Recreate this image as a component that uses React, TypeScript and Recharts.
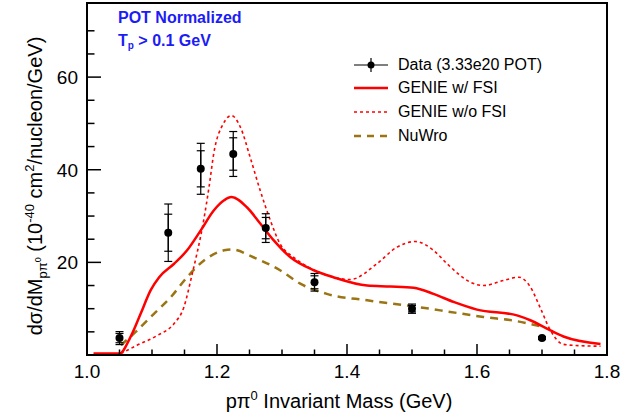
import { ComposedChart, Line, Scatter, ErrorBar, XAxis, YAxis, ReferenceArea } from 'recharts';

// p pi0 invariant mass (GeV) vs cross section (1e-40 cm2/nucleon/GeV)
const dataMass = [1.05, 1.125, 1.175, 1.225, 1.275, 1.35, 1.5, 1.7];
const dataValue = [3.65, 26.4, 40.2, 43.4, 27.4, 15.7, 10.0, 3.65];
const dataStat = [1.0, 4.0, 3.9, 3.5, 2.3, 1.4, 0.7, 0.2];
const dataTotal = [1.4, 6.2, 5.5, 4.85, 3.1, 1.9, 1.0, 0.3];

const genieFsi = [
  { m: 1.01, v: 0.3 }, { m: 1.05, v: 0.3 }, { m: 1.067, v: 3.9 }, { m: 1.0825, v: 8.9 },
  { m: 1.098, v: 14.0 }, { m: 1.111, v: 16.8 }, { m: 1.134, v: 19.7 }, { m: 1.154, v: 22.6 },
  { m: 1.175, v: 26.9 }, { m: 1.195, v: 31.2 }, { m: 1.211, v: 33.4 }, { m: 1.222, v: 34.1 },
  { m: 1.246, v: 31.9 }, { m: 1.2665, v: 28.4 }, { m: 1.287, v: 24.8 }, { m: 1.313, v: 21.1 },
  { m: 1.349, v: 18.3 }, { m: 1.379, v: 16.8 }, { m: 1.431, v: 15.0 }, { m: 1.467, v: 14.8 },
  { m: 1.5025, v: 14.5 }, { m: 1.533, v: 13.2 }, { m: 1.565, v: 11.4 }, { m: 1.6, v: 9.8 },
  { m: 1.6615, v: 8.55 }, { m: 1.682, v: 7.5 }, { m: 1.713, v: 5.3 }, { m: 1.733, v: 4.0 },
  { m: 1.79, v: 2.4 },
];

const genieNoFsi = [
  { m: 1.052, v: 0.3 }, { m: 1.077, v: 2.1 }, { m: 1.108, v: 4.2 }, { m: 1.134, v: 6.8 },
  { m: 1.149, v: 10.3 }, { m: 1.161, v: 17.0 }, { m: 1.18, v: 29.5 }, { m: 1.188, v: 36.5 },
  { m: 1.195, v: 43.5 }, { m: 1.21, v: 50.0 }, { m: 1.222, v: 51.7 }, { m: 1.236, v: 49.2 },
  { m: 1.251, v: 42.7 }, { m: 1.2665, v: 35.5 }, { m: 1.282, v: 29.1 }, { m: 1.297, v: 24.0 },
  { m: 1.318, v: 21.1 }, { m: 1.34, v: 19.0 }, { m: 1.369, v: 17.2 }, { m: 1.405, v: 16.3 },
  { m: 1.446, v: 19.7 }, { m: 1.477, v: 23.3 }, { m: 1.505, v: 24.5 }, { m: 1.533, v: 22.6 },
  { m: 1.554, v: 19.7 }, { m: 1.574, v: 17.2 }, { m: 1.59, v: 15.7 }, { m: 1.61, v: 15.0 },
  { m: 1.641, v: 16.1 }, { m: 1.664, v: 16.8 }, { m: 1.682, v: 14.7 }, { m: 1.697, v: 10.3 },
  { m: 1.713, v: 5.3 }, { m: 1.733, v: 2.3 }, { m: 1.76, v: 2.0 }, { m: 1.79, v: 1.9 },
];

const nuwro = [
  { m: 1.052, v: 2.1 }, { m: 1.072, v: 4.6 }, { m: 1.103, v: 8.9 }, { m: 1.129, v: 12.5 },
  { m: 1.154, v: 16.8 }, { m: 1.18, v: 20.4 }, { m: 1.211, v: 22.6 }, { m: 1.222, v: 22.8 },
  { m: 1.256, v: 21.1 }, { m: 1.297, v: 18.3 }, { m: 1.328, v: 15.4 }, { m: 1.369, v: 13.2 },
  { m: 1.431, v: 11.8 }, { m: 1.5025, v: 10.5 }, { m: 1.559, v: 9.3 }, { m: 1.61, v: 8.2 },
  { m: 1.6615, v: 7.3 }, { m: 1.697, v: 6.2 },
];

const xTicks = [1.0, 1.05, 1.1, 1.15, 1.2, 1.25, 1.3, 1.35, 1.4, 1.45, 1.5, 1.55, 1.6, 1.65, 1.7, 1.75, 1.8];
const xMajor = [1.0, 1.2, 1.4, 1.6, 1.8];
const yTicks = [5, 10, 15, 20, 25, 30, 35, 40, 45, 50, 55, 60, 65, 70];
const yMajor = [20, 40, 60];

const points = dataMass.map((m, i) => ({
  m,
  v: dataValue[i],
  stat: dataStat[i],
  total: dataTotal[i],
}));

const RED = '#ff0000';
const BROWN = '#9b7514';
const FONT = '"Liberation Sans", Arial, Helvetica, sans-serif';

function XTick({ x, y, payload }: any) {
  const major = xMajor.some((t) => Math.abs(t - payload.value) < 1e-6);
  return (
    <g>
      <line x1={x} x2={x} y1={y} y2={y - (major ? 11 : 5.5)} stroke="#000" strokeWidth={1.5} />
      {major && (
        <text x={x} y={y + 23} textAnchor="middle" fontSize={19} fill="#000" fontFamily={FONT}>
          {payload.value.toFixed(1)}
        </text>
      )}
    </g>
  );
}

function YTick({ x, y, payload }: any) {
  const major = yMajor.includes(payload.value);
  return (
    <g>
      <line x1={x} x2={x + (major ? 14 : 7.5)} y1={y} y2={y} stroke="#000" strokeWidth={1.5} />
      {major && (
        <text x={x - 9} y={y + 7} textAnchor="end" fontSize={19} fill="#000" fontFamily={FONT}>
          {payload.value}
        </text>
      )}
    </g>
  );
}

function Dot(props: any) {
  return <circle cx={props.cx} cy={props.cy} r={4} fill="#000" />;
}

function LegendIcon({ kind }: { kind: string }) {
  return (
    <svg width={36} height={14} style={{ display: 'block' }}>
      {kind === 'data' && (
        <g>
          <line x1={1} x2={35} y1={7} y2={7} stroke="#000" strokeWidth={1.2} />
          <line x1={18} x2={18} y1={0} y2={14} stroke="#000" strokeWidth={1.2} />
          <circle cx={18} cy={7} r={3.5} fill="#000" />
        </g>
      )}
      {kind === 'fsi' && <line x1={1} x2={35} y1={7} y2={7} stroke={RED} strokeWidth={2.5} />}
      {kind === 'nofsi' && (
        <line x1={1} x2={35} y1={7} y2={7} stroke={RED} strokeWidth={1.5} strokeDasharray="3 3" />
      )}
      {kind === 'nuwro' && (
        <line x1={1} x2={35} y1={7} y2={7} stroke={BROWN} strokeWidth={2.5} strokeDasharray="7 6" />
      )}
    </svg>
  );
}

const legendItems = [
  { kind: 'data', label: 'Data (3.33e20 POT)' },
  { kind: 'fsi', label: 'GENIE w/ FSI' },
  { kind: 'nofsi', label: 'GENIE w/o FSI' },
  { kind: 'nuwro', label: 'NuWro' },
];

export default function App() {
  return (
    <div style={{ position: 'absolute', left: 0, top: 0, width: 638, height: 417, background: '#fff', fontFamily: FONT }}>
      <ComposedChart width={638} height={417} margin={{ top: 3, right: 31, left: 0, bottom: 0 }}>
        <XAxis
          dataKey="m"
          type="number"
          domain={[1, 1.8]}
          ticks={xTicks}
          interval={0}
          allowDataOverflow
          height={62}
          tickSize={0}
          tickMargin={0}
          tickLine={false}
          tick={<XTick />}
          axisLine={{ stroke: '#000', strokeWidth: 2 }}
          label={{
            content: () => (
              <text x={339} y={408} textAnchor="middle" fontSize={20} fill="#000" fontFamily={FONT}>
                pπ<tspan dy={-8} fontSize={13}>0</tspan>
                <tspan dy={8}> Invariant Mass (GeV)</tspan>
              </text>
            ),
          }}
        />
        <YAxis
          dataKey="v"
          type="number"
          domain={[0, 76]}
          ticks={yTicks}
          interval={0}
          allowDataOverflow
          width={87}
          tickSize={0}
          tickMargin={0}
          tickLine={false}
          tick={<YTick />}
          axisLine={{ stroke: '#000', strokeWidth: 2 }}
          label={{
            content: () => (
              <text transform="translate(42,186) rotate(-90)" textAnchor="middle" fontSize={20} fill="#000" fontFamily={FONT}>
                dσ/dM
                <tspan dy={5} fontSize={13}>pπ</tspan>
                <tspan dy={-6} fontSize={9}>0</tspan>
                <tspan dy={1}> (10</tspan>
                <tspan dy={-8} fontSize={13}>-40</tspan>
                <tspan dy={8}> cm</tspan>
                <tspan dy={-8} fontSize={13}>2</tspan>
                <tspan dy={8}>/nucleon/GeV)</tspan>
              </text>
            ),
          }}
        />
        <ReferenceArea x1={1} x2={1.8} y1={0} y2={76} fill="none" stroke="#000" strokeWidth={2} />
        <Line data={nuwro} dataKey="v" type="monotone" stroke={BROWN} strokeWidth={2.5} strokeDasharray="8 6" dot={false} isAnimationActive={false} />
        <Line data={genieNoFsi} dataKey="v" type="monotone" stroke={RED} strokeWidth={1.6} strokeDasharray="3 3" dot={false} isAnimationActive={false} />
        <Line data={genieFsi} dataKey="v" type="monotone" stroke={RED} strokeWidth={2.5} dot={false} isAnimationActive={false} />
        <Scatter data={points} dataKey="v" shape={<Dot />} isAnimationActive={false}>
          <ErrorBar dataKey="total" direction="y" width={4} stroke="#000" strokeWidth={1.2} />
          <ErrorBar dataKey="stat" direction="y" width={4} stroke="#000" strokeWidth={1.2} />
        </Scatter>
      </ComposedChart>

      <div style={{ position: 'absolute', left: 118, top: 6, color: '#1c1cf5', fontWeight: 'bold', fontSize: 16, lineHeight: '23px' }}>
        <div>POT Normalized</div>
        <div>
          T<sub style={{ fontSize: 10, verticalAlign: -3 }}>p</sub> &gt; 0.1 GeV
        </div>
      </div>

      <div style={{ position: 'absolute', left: 353, top: 53 }}>
        {legendItems.map((it) => (
          <div key={it.kind} style={{ display: 'flex', alignItems: 'center', height: 23.6, fontSize: 16, color: '#000' }}>
            <LegendIcon kind={it.kind} />
            <span style={{ marginLeft: 9 }}>{it.label}</span>
          </div>
        ))}
      </div>
    </div>
  );
}
